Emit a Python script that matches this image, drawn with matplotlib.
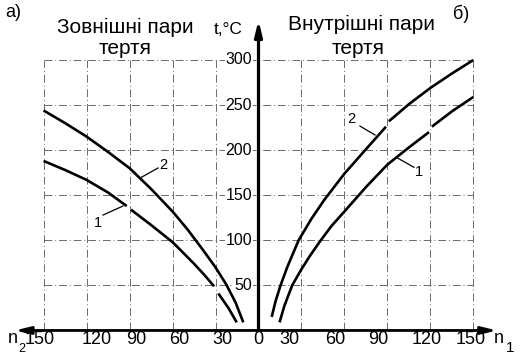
import matplotlib
matplotlib.use("Agg")
import matplotlib.pyplot as plt
import numpy as np

plt.rcParams["font.family"] = ["Liberation Sans", "DejaVu Sans"]

# ---------- data ----------
# left half (external friction pairs), n2 values are plotted to the left of zero
left_2_n = [150, 135, 120, 105, 90, 75, 60, 50, 40, 30, 22.5, 16, 10.6]
left_2_t = [244, 230, 215, 198, 180, 157, 132, 113, 92, 70, 51, 31, 9]

left_1a_n = [150, 135, 120, 105, 92]
left_1a_t = [188, 178, 167, 153, 138]
left_1b_n = [89, 75, 60, 54, 45, 38, 31]
left_1b_t = [134, 117, 98, 88.5, 74, 62, 49]
left_1c_n = [28, 21, 15.2]
left_1c_t = [41, 25, 9]

# right half (internal friction pairs)
right_2a_n = [9.2, 12, 15.4, 20, 28, 37, 46, 60, 75, 89]
right_2a_t = [15, 33, 50, 70, 100, 124, 145, 174, 201, 226]
right_2b_n = [91, 105, 120, 135, 150]
right_2b_t = [232, 251, 269, 285, 300]

right_1a_n = [14.7, 18, 23.5, 30, 36, 43, 51, 60, 75, 90, 105, 119]
right_1a_t = [9, 27, 50, 68, 83, 99, 116, 132, 159, 184, 203, 220]
right_1b_n = [121, 135, 150]
right_1b_t = [226, 243, 259]

n_ticks = [30, 60, 90, 120, 150]
t_ticks = [50, 100, 150, 200, 250, 300]

# ---------- figure ----------
fig = plt.figure(figsize=(5.2, 3.54), dpi=100)
ax = fig.add_axes([0, 0, 1, 1])
ax.set_xlim(-180.4, 182.5)
ax.set_ylim(-26.1, 366.5)
ax.axis("off")

px_x = 1.433   # pixels per n unit

grid_kw = dict(color="#6a6a6a", lw=0.7, dashes=(8, 3, 1, 3), zorder=1)
for n in n_ticks:
    ax.plot([-n, -n], [0, t_ticks[-1]], **grid_kw)
    ax.plot([n, n], [0, t_ticks[-1]], **grid_kw)
for t in t_ticks:
    ax.plot([-n_ticks[-1], n_ticks[-1]], [t, t], **grid_kw)

# axes with arrows
arrow = dict(arrowstyle="-|>,head_length=0.9,head_width=0.22",
             lw=2, color="black", shrinkA=0, shrinkB=0)
ax.annotate("", xy=(-170, 0), xytext=(0, 0), arrowprops=arrow, zorder=4)
ax.annotate("", xy=(166.4, 0), xytext=(0, 0), arrowprops=arrow, zorder=4)
ax.annotate("", xy=(0, 344), xytext=(0, 0),
            arrowprops=dict(arrow, lw=2.3), zorder=4)

# curves
curve_kw = dict(color="black", lw=1.9, solid_capstyle="butt",
                solid_joinstyle="round", zorder=3)
for n, t in [(left_2_n, left_2_t), (left_1a_n, left_1a_t),
             (left_1b_n, left_1b_t), (left_1c_n, left_1c_t)]:
    ax.plot(-np.array(n), t, **curve_kw)
for n, t in [(right_2a_n, right_2a_t), (right_2b_n, right_2b_t),
             (right_1a_n, right_1a_t), (right_1b_n, right_1b_t)]:
    ax.plot(n, t, **curve_kw)

# curve labels with leader lines
lead_kw = dict(color="black", lw=0.9, zorder=3)
ax.plot([-82.7, -70.1], [169, 180.2], **lead_kw)
ax.text(-66.6, 184, "2", fontsize=10.5, ha="center", va="center")
ax.plot([-108.5, -94.6], [128, 138], **lead_kw)
ax.text(-112, 119, "1", fontsize=10.5, ha="center", va="center")
ax.plot([70.8, 81.3], [226.7, 216.8], **lead_kw)
ax.text(64.5, 234.5, "2", fontsize=10.5, ha="center", va="center")
ax.plot([97.3, 108.5], [191, 181], **lead_kw)
ax.text(112, 175.8, "1", fontsize=10.5, ha="center", va="center")

# y tick labels
for t in t_ticks:
    ax.text(-4.5, t, str(t), fontsize=11.5, ha="right", va="center", zorder=5,
            bbox=dict(facecolor="white", edgecolor="none", pad=0.5))

# x tick labels (shifted a little toward the centre as in the drawing)
shift_left = [7, 7, 7, 10, -4]
shift_right = [-12, -9, -9, -4, -3]
for n, s in zip(n_ticks, shift_left):
    ax.text(-n + s / px_x, -10.5, str(n), fontsize=13, ha="center", va="center")
for n, s in zip(n_ticks, shift_right):
    ax.text(n + s / px_x, -10.5, str(n), fontsize=13, ha="center", va="center")
ax.text(0, -10.5, "0", fontsize=13, ha="center", va="center")

ax.text(-171.5, -9, "n", fontsize=13, ha="center", va="center")
ax.text(-165.5, -21, "2", fontsize=9, ha="center", va="center")
ax.text(167.5, -9, "n", fontsize=13, ha="center", va="center")
ax.text(175.5, -19, "1", fontsize=11, ha="center", va="center")

# titles
ax.text(-177, 353, "а)", fontsize=13, ha="left", va="center")
ax.text(-93, 336, "Зовнішні пари", fontsize=15, ha="center", va="center")
ax.text(-93, 313, "тертя", fontsize=15, ha="center", va="center")
ax.text(-21, 334, "t,°C", fontsize=12.5, ha="center", va="center")
ax.text(72, 339, "Внутрішні пари", fontsize=15, ha="center", va="center")
ax.text(69.4, 313, "тертя", fontsize=15, ha="center", va="center")
ax.text(135.7, 351, "б)", fontsize=13, ha="left", va="center")

fig.savefig("out.png", dpi=100)
